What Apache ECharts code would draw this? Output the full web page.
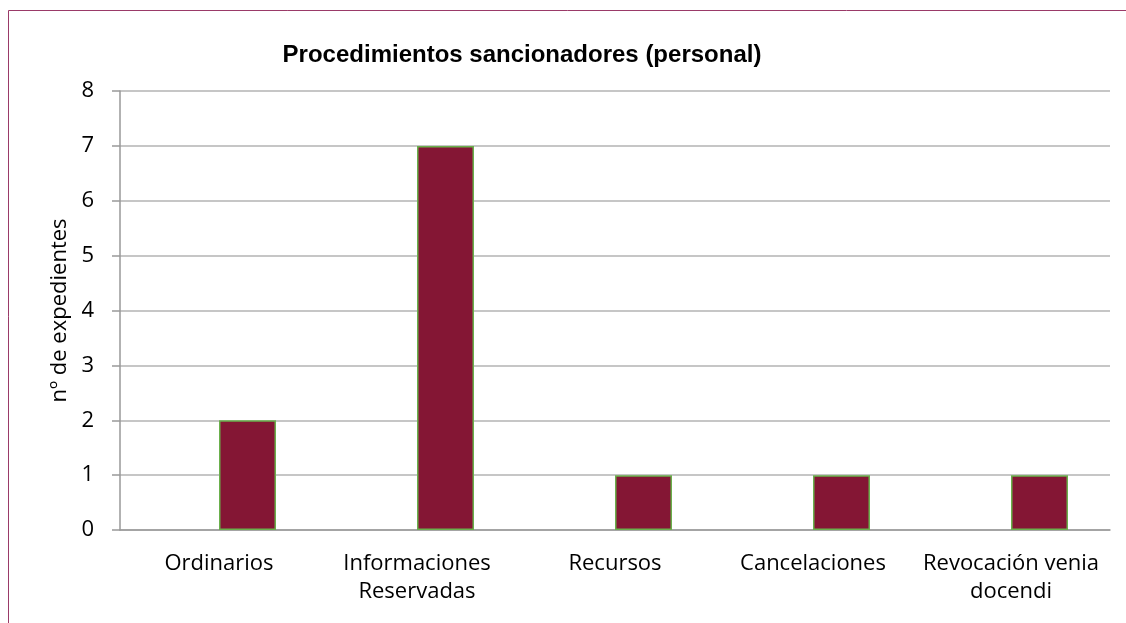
<!DOCTYPE html>
<html>
<head>
<meta charset="utf-8">
<script src="https://cdn.jsdelivr.net/npm/echarts@6/dist/echarts.min.js"></script>
<style>
html,body{margin:0;padding:0;background:#fff;}
#c{width:1126px;height:623px;}
</style>
</head>
<body>
<div id="c"></div>
<script>
const categories = ['Ordinarios', 'Informaciones\nReservadas', 'Recursos', 'Cancelaciones', 'Revocación venia\ndocendi'];
const emptySeries = [null, null, null, null, null];
const values = [2, 7, 1, 1, 1];
const yTicks = {min: 0, max: 8, interval: 1};

const chart = echarts.init(document.getElementById('c'), null, {renderer: 'canvas'});
const font = '"Open Sans", "Noto Sans", sans-serif';
chart.setOption({
  animation: false,
  backgroundColor: '#fff',
  title: {
    text: 'Procedimientos sancionadores (personal)',
    left: 517, top: 38, textAlign: 'center',
    textStyle: {fontFamily: '"Liberation Sans", Arial, sans-serif', fontWeight: 'bold', fontSize: 24, color: '#000'}
  },
  graphic: [
    {type: 'polyline', shape: {points: [[8.5, 623], [8.5, 10.5], [1126, 10.5]]},
     style: {stroke: '#9a3a68', lineWidth: 1, fill: null}, silent: true}
  ],
  grid: {left: 120, right: 16, top: 91, bottom: 93},
  xAxis: {
    type: 'category',
    data: categories,
    axisLine: {lineStyle: {color: '#999', width: 1.5}},
    axisTick: {show: false},
    axisLabel: {fontFamily: font, fontSize: 22, color: '#000', lineHeight: 28, margin: 20, interval: 0}
  },
  yAxis: {
    type: 'value',
    min: yTicks.min, max: yTicks.max, interval: yTicks.interval,
    name: 'nº de expedientes',
    nameLocation: 'middle',
    nameGap: 45,
    nameTextStyle: {fontFamily: font, fontSize: 22, color: '#000'},
    axisLine: {show: true, lineStyle: {color: '#999', width: 1.5}},
    axisTick: {show: true, length: 8, lineStyle: {color: '#999', width: 1.5}},
    axisLabel: {fontFamily: font, fontSize: 22, color: '#000', margin: 26},
    splitLine: {lineStyle: {color: '#b3b3b3', width: 1.5}}
  },
  series: [
    {type: 'bar', data: emptySeries, barWidth: 57, barGap: '0%'},
    {type: 'bar', data: values, barWidth: 57, barGap: '0%',
     itemStyle: {color: '#841634', borderColor: '#6ab04c', borderWidth: 1.5}}
  ]
});
</script>
</body>
</html>
